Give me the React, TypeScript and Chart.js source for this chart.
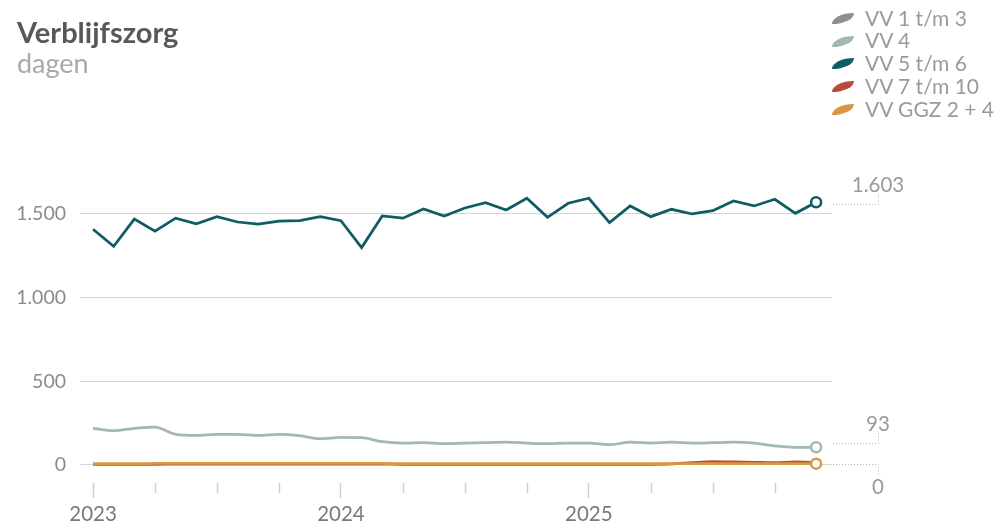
import React, { useEffect, useRef } from 'react';
import { Chart, registerables } from 'chart.js';

Chart.register(...registerables);

const MONTHS = [
  '2023-01', '2023-02', '2023-03', '2023-04', '2023-05', '2023-06', '2023-07', '2023-08', '2023-09', '2023-10', '2023-11', '2023-12',
  '2024-01', '2024-02', '2024-03', '2024-04', '2024-05', '2024-06', '2024-07', '2024-08', '2024-09', '2024-10', '2024-11', '2024-12',
  '2025-01', '2025-02', '2025-03', '2025-04', '2025-05', '2025-06', '2025-07', '2025-08', '2025-09', '2025-10', '2025-11', '2025-12',
];

const VV_1_3: (number | null)[] = [
  null, null, null, null, null, null, null, null, null, null, null, null,
  null, null, null, null, null, null, null, null, null, null, null, null,
  null, null, null, null, null, null, null, null, null, null, null, null,
];
const VV_4 = [
  219, 205, 219, 227, 183, 177, 183, 183, 177, 183, 175, 157,
  165, 163, 139, 131, 133, 127, 131, 133, 137, 131, 127, 131,
  131, 121, 136, 131, 136, 131, 133, 136, 131, 114, 106, 106,
];
const VV_5_6 = [
  1409, 1307, 1469, 1397, 1475, 1441, 1484, 1452, 1439, 1457, 1460, 1484,
  1460, 1299, 1488, 1475, 1530, 1488, 1536, 1568, 1524, 1594, 1480, 1564,
  1594, 1448, 1548, 1484, 1528, 1500, 1520, 1578, 1548, 1588, 1504, 1570,
];
const VV_7_10 = [
  4, 4, 4, 4, 5, 5, 5, 5, 5, 5, 5, 5,
  5, 5, 5, 4, 4, 4, 4, 4, 4, 4, 4, 4,
  4, 4, 4, 4, 6, 14, 20, 18, 16, 14, 18, 14,
];
const VV_GGZ = [
  8, 8, 8, 9, 10, 10, 10, 10, 10, 10, 10, 10,
  10, 10, 9, 8, 8, 8, 8, 8, 8, 8, 8, 8,
  8, 8, 8, 8, 8, 8, 8, 8, 8, 8, 8, 8,
];

const SERIES_NAMES = ['VV 1 t/m 3', 'VV 4', 'VV 5 t/m 6', 'VV 7 t/m 10', 'VV GGZ 2 + 4'];
const SERIES_COLORS = ['#8e8e92', '#a3b8b0', '#0f5c62', '#b94b39', '#d99840'];
const Y_TICKS = [0, 500, 1000, 1500];
const YEAR_LABELS = ['2023', '2024', '2025'];
const END_LABELS = ['1.603', '93', '0'];

const fmt = (v: number) => String(v).replace(/\B(?=(\d{3})+(?!\d))/g, '.');

const leaderPlugin = {
  id: 'leaders',
  afterDatasetsDraw(chart: any) {
    const { ctx, chartArea, scales } = chart;
    const y = scales.y;
    const x0 = chartArea.right + 1;
    const xv = chartArea.right + 46;
    const items = [
      { text: END_LABELS[0], py: y.getPixelForValue(VV_5_6[VV_5_6.length - 1]) + 2, dir: -1 },
      { text: END_LABELS[1], py: y.getPixelForValue(VV_4[VV_4.length - 1]) - 4.5, dir: -1 },
      { text: END_LABELS[2], py: y.getPixelForValue(0) - 0.5, dir: 1 },
    ];
    ctx.save();
    ctx.strokeStyle = '#b0b0b0';
    ctx.lineWidth = 1;
    ctx.setLineDash([1, 2]);
    ctx.fillStyle = '#9a9a9a';
    ctx.font = '20.5px Lato';
    ctx.textAlign = 'center';
    ctx.textBaseline = 'alphabetic';
    for (const it of items) {
      const yy = Math.round(it.py) + 0.5;
      ctx.beginPath();
      ctx.moveTo(x0, yy);
      ctx.lineTo(xv, yy);
      ctx.moveTo(xv + 0.5, yy);
      ctx.lineTo(xv + 0.5, yy + it.dir * 10);
      ctx.stroke();
      if (it.dir < 0) {
        ctx.fillText(it.text, xv, yy - 12.5);
      } else {
        ctx.fillText(it.text, xv, yy + 29);
      }
    }
    ctx.restore();
  },
};

const minorTickPlugin = {
  id: 'minorTicks',
  afterDraw(chart: any) {
    const { ctx, scales } = chart;
    const x = scales.x;
    ctx.save();
    ctx.strokeStyle = '#cfcfcf';
    ctx.lineWidth = 1.5;
    for (let i = 0; i < MONTHS.length; i += 3) {
      if (i % 12 === 0) continue;
      const px = Math.round(x.getPixelForValue(i)) + 0.5;
      ctx.beginPath();
      ctx.moveTo(px, x.top);
      ctx.lineTo(px, x.top + 10);
      ctx.stroke();
    }
    ctx.restore();
  },
};

function makeDataset(idx: number, values: (number | null)[], order: number, endCircle: boolean, smooth: boolean) {
  return {
    label: SERIES_NAMES[idx],
    data: values.map((v, i) => ({ x: i, y: v })),
    borderColor: SERIES_COLORS[idx],
    backgroundColor: '#ffffff',
    borderWidth: 2.75,
    order,
    tension: 0,
    cubicInterpolationMode: smooth ? 'monotone' : 'default',
    pointRadius: (c: any) => (endCircle && c.dataIndex === values.length - 1 ? 5 : 0),
    pointHoverRadius: 0,
    pointBorderWidth: 2.5,
    pointBorderColor: SERIES_COLORS[idx],
    pointBackgroundColor: '#ffffff',
    spanGaps: false,
  };
}

function ChartView() {
  const ref = useRef<HTMLCanvasElement | null>(null);
  useEffect(() => {
    if (!ref.current) return;
    const chart = new Chart(ref.current, {
      type: 'line',
      data: {
        datasets: [
          makeDataset(0, VV_1_3, 4, false, true),
          makeDataset(1, VV_4, 3, true, true),
          makeDataset(2, VV_5_6, 2, true, false),
          makeDataset(3, VV_7_10, 1, false, true),
          makeDataset(4, VV_GGZ, 0, true, true),
        ] as any,
      },
      options: {
        responsive: false,
        animation: false,
        devicePixelRatio: 1,
        layout: { padding: { left: 0, right: 169, top: 130.3, bottom: 0 } },
        plugins: { legend: { display: false }, tooltip: { enabled: false }, title: { display: false } },
        events: [],
        scales: {
          x: {
            type: 'linear',
            min: -0.63,
            max: 35.77,
            afterBuildTicks: (s: any) => {
              const t = [];
              for (let i = 0; i < MONTHS.length; i += 3) t.push({ value: i });
              s.ticks = t;
            },
            afterFit: (s: any) => {
              s.height = 45;
            },
            border: { display: false },
            grid: {
              drawOnChartArea: false,
              drawTicks: true,
              tickLength: 15,
              tickWidth: 1.5,
              tickColor: (c: any) => (c.tick && c.tick.value % 12 === 0 ? '#cfcfcf' : 'rgba(0,0,0,0)'),
            },
            ticks: {
              autoSkip: false,
              maxRotation: 0,
              minRotation: 0,
              padding: 4,
              color: '#7a7a7a',
              font: { family: 'Lato', size: 20.5 },
              callback: (v: any) => (Number(v) % 12 === 0 ? YEAR_LABELS[Number(v) / 12] : ''),
            },
          },
          y: {
            type: 'linear',
            min: -107.6,
            max: 2000,
            afterBuildTicks: (s: any) => {
              s.ticks = Y_TICKS.map((v) => ({ value: v }));
            },
            afterFit: (s: any) => {
              s.width = 80;
            },
            border: { display: false },
            grid: { color: '#d5d5d5', lineWidth: 1, drawTicks: false },
            ticks: {
              padding: 14,
              color: '#8a8a8a',
              font: { family: 'Lato', size: 19.5 },
              callback: (v: any) => fmt(Number(v)),
            },
          },
        },
      } as any,
      plugins: [leaderPlugin, minorTickPlugin],
    });
    return () => chart.destroy();
  }, []);
  return <canvas ref={ref} width={1001} height={528} style={{ position: 'absolute', left: 0, top: 0, width: 1001, height: 528 }} />;
}

export default function App() {
  return (
    <div style={{ position: 'absolute', left: 0, top: 0, width: 1001, height: 528, background: '#fff', fontFamily: 'Lato, sans-serif', overflow: 'hidden' }}>
      <ChartView />
      <div style={{ position: 'absolute', left: 17, top: 14.8, fontSize: 29, fontWeight: 700, color: '#58585a', lineHeight: '34px', whiteSpace: 'nowrap' }}>
        Verblijfszorg
      </div>
      <div style={{ position: 'absolute', left: 17, top: 46.5, fontSize: 27, fontWeight: 400, color: '#a9a9a9', lineHeight: '32px', whiteSpace: 'nowrap' }}>
        dagen
      </div>
      <div style={{ position: 'absolute', left: 832, top: 6.5 }}>
        {SERIES_NAMES.map((name, i) => (
          <div key={name} style={{ display: 'flex', alignItems: 'center', height: 22.75, whiteSpace: 'nowrap' }}>
            <span
              style={{
                display: 'inline-block',
                width: 22,
                height: 11,
                borderRadius: '100% 0',
                background: SERIES_COLORS[i],
                marginRight: 11,
                marginTop: 1,
                flexShrink: 0,
              }}
            />
            <span style={{ fontSize: 21, color: '#9a9a9a', lineHeight: '22.75px' }}>{name}</span>
          </div>
        ))}
      </div>
    </div>
  );
}
